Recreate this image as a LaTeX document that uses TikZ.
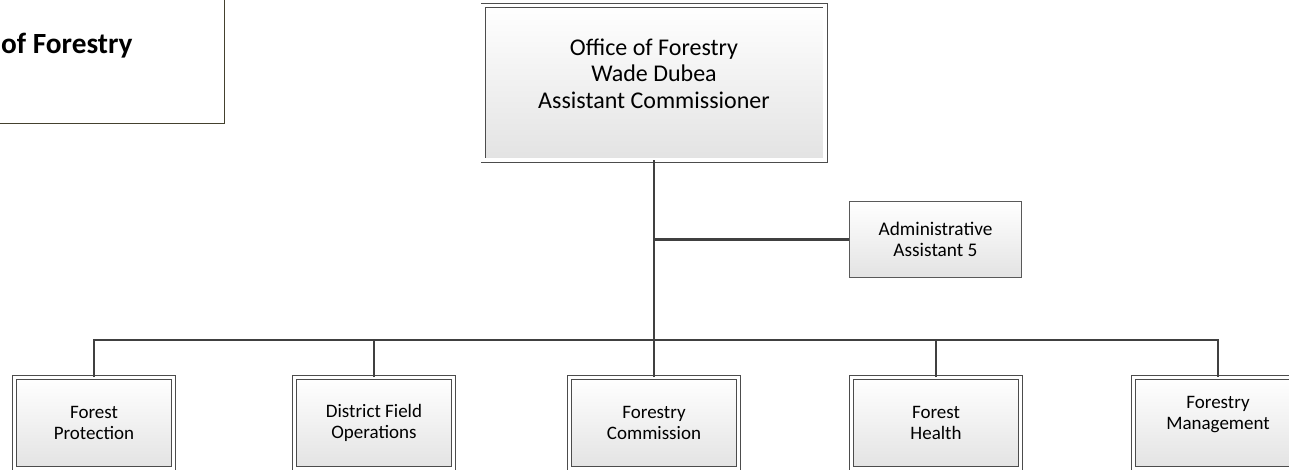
\documentclass[tikz,border=0pt]{standalone}
\usepackage{fontspec}
\setmainfont{Carlito}
\usetikzlibrary{positioning}

\begin{document}
\begin{tikzpicture}[
x=1pt, y=-1pt,
line join=miter,
headbox/.style={draw=black!70, line width=0.8pt, double=white, double distance=3.4pt,
  top color=white, bottom color=black!11, inner sep=0pt, align=center},
deptbox/.style={headbox, minimum height=91pt, font=\fontsize{19}{21}\selectfont},
staffbox/.style={draw=black!65, line width=0.8pt, top color=white, bottom color=black!11,
  minimum width=172pt, minimum height=76pt, inner sep=0pt, align=center,
  font=\fontsize{19.3}{20.5}\selectfont},
unitbox/.style={draw=black!60!olive!80!black, line width=0.8pt, inner sep=0pt},
link/.style={draw=black!75, line width=2.2pt},
]
\useasboundingbox (0,0) rectangle (1289,469);
\clip (0,0) rectangle (1289,469);

% unit box, cut by the page edge
\node[unitbox, minimum width=300pt, minimum height=150pt] (unit) at (74,48) {};
\node[anchor=base west, inner sep=0pt, font=\fontsize{29.3}{34}\selectfont\bfseries] (unitname) at (1,53) {of Forestry};

% head and staff
\node[headbox, minimum width=342pt, minimum height=154.5pt] (head) at (654,82.75) {};
\node[align=center, inner sep=0pt, font=\fontsize{24}{26.5}\selectfont] (headname) at (654,73.5)
  {Office of Forestry\\Wade Dubea\\Assistant Commissioner};
\node[staffbox] (admin) at (935.5,239.5) {Administrative\\Assistant 5};

% departments
\node[deptbox, minimum width=159pt] (fp) at (94,423) {Forest\\Protection};
\node[deptbox, minimum width=159pt] (dfo) at (374,423) {District Field\\Operations};
\node[deptbox, minimum width=169pt] (fc) at (654,423) {Forestry\\Commission};
\node[deptbox, minimum width=169pt] (fh) at (936,423) {Forest\\Health};
\node[deptbox, minimum width=169pt, text depth=20pt] (fm) at (1218,423) {Forestry\\Management};

% lines
\coordinate (bus) at (654,340);
\draw[link] (head.south) -- (bus);
\draw[link] (head.south |- admin.west) -- (admin.west);
\draw[link] (fp.north) |- (bus) -| (fm.north);
\foreach \d in {dfo,fc,fh}
  \draw[link] (\d.north) -- (\d.north |- bus);
\end{tikzpicture}
\end{document}
